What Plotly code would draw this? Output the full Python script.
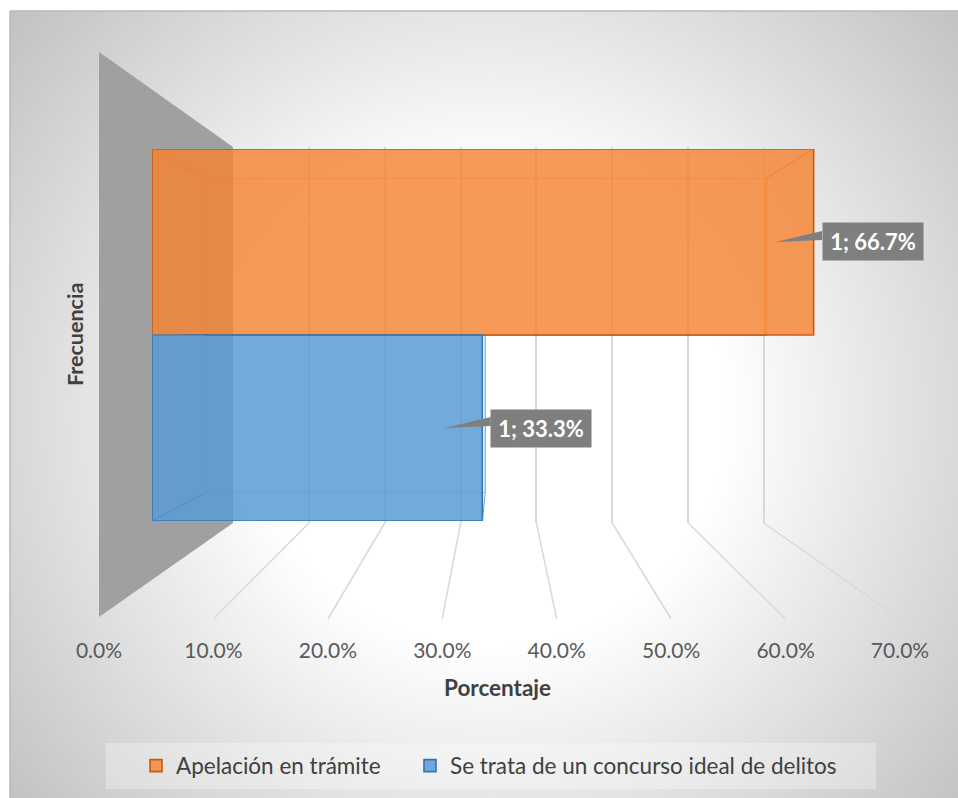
import base64
import plotly.graph_objects as go

# ---------------- data ----------------
categories = ["Apelación en trámite", "Se trata de un concurso ideal de delitos"]
frequencies = [1, 1]
percentages = [66.7, 33.3]
tick_values = [0, 10, 20, 30, 40, 50, 60, 70]
tick_labels = ["0.0%", "10.0%", "20.0%", "30.0%", "40.0%", "50.0%", "60.0%", "70.0%"]
x_title = "Porcentaje"
y_title = "Frecuencia"

# ---------------- styling / geometry ----------------
W, H = 958, 798
FONT = "Lato"
fills = ["rgba(245,130,50,0.82)", "rgba(91,155,213,0.85)"]
edges = ["#c55a11", "#2e75b6"]
backs = ["rgba(238,122,40,0.85)", "rgba(66,135,200,0.75)"]
legend_ids = ["legend", "legend2"]
legend_left_px = [136, 410]
XMAX = tick_values[-1]

# pixel geometry of the pseudo-3D scene
WALL = dict(x0=233, x1=764, top=147, bot=523)          # back wall
FLOOR = dict(x0=99, x1=900, y=619)                      # front floor edge
SIDE_TOP = 52
BACK = dict(x0=205, k=8.415, top=178, bot=493)          # back faces of bars
FRONT = dict(x0=152, k=9.92, top=149, bot=521)          # front faces of bars
WK = (WALL["x1"] - WALL["x0"]) / XMAX                   # back-wall px per unit
PAD = 0.6                                               # range padding so edge grid line shows


def px(x):
    return x / W


def py(y):
    return 1 - y / H


n = len(categories)
pos = [n - 1 - i for i in range(n)]  # first category on top


def fx(v):
    return FRONT["x0"] + v * FRONT["k"]


def bx(v):
    return BACK["x0"] + v * BACK["k"]


fig = go.Figure()

# dummy trace to materialise the back-wall subplot (grid lines)
fig.add_trace(go.Scatter(x=[0], y=[0], mode="markers", marker=dict(opacity=0),
                         showlegend=False, hoverinfo="skip", xaxis="x", yaxis="y"))

# back faces
for i in range(n):
    fig.add_trace(go.Bar(
        x=[percentages[i]], y=[pos[i]], orientation="h", width=1,
        xaxis="x2", yaxis="y2",
        marker=dict(color="rgba(0,0,0,0)", line=dict(color=backs[i], width=1.2)),
        showlegend=False, hoverinfo="skip"))

# front faces (legend entries)
for i in range(n):
    fig.add_trace(go.Bar(
        x=[percentages[i]], y=[pos[i]], orientation="h", width=1,
        name=categories[i], xaxis="x3", yaxis="y3", legend=legend_ids[i],
        marker=dict(color=fills[i], line=dict(color=edges[i], width=1.6)),
        hoverinfo="skip"))

# data-label callout wedges
for i in range(n):
    v, c = percentages[i], pos[i]
    fig.add_trace(go.Scatter(
        x=[v - 3.83, v + 0.85, v + 0.85], y=[c, c + 0.059, c + 0.011],
        mode="lines", fill="toself", fillcolor="#7f7f7f", line=dict(width=0, color="#7f7f7f"),
        xaxis="x3", yaxis="y3", showlegend=False, hoverinfo="skip"))

# dummy trace for front floor tick axis
fig.add_trace(go.Scatter(x=[0], y=[0], mode="markers", marker=dict(opacity=0),
                         showlegend=False, hoverinfo="skip", xaxis="x4", yaxis="y4"))

# ---------------- background (radial gradient) ----------------
bw, bh = W - 10, H - 11
svg = (f'<svg xmlns="http://www.w3.org/2000/svg" width="{bw}" height="{bh}" '
       f'viewBox="0 0 {bw} {bh}" preserveAspectRatio="none"><defs>'
       f'<radialGradient id="g" gradientUnits="userSpaceOnUse" cx="480" cy="400" r="620">'
       f'<stop offset="0" stop-color="#ffffff"/><stop offset="0.38" stop-color="#ffffff"/>'
       f'<stop offset="0.65" stop-color="#e4e4e4"/><stop offset="1" stop-color="#c2c2c2"/>'
       f'</radialGradient></defs><rect width="{bw}" height="{bh}" fill="url(#g)"/></svg>')
src = "data:image/svg+xml;base64," + base64.b64encode(svg.encode()).decode()

shapes = []
# side wall
shapes.append(dict(
    type="path", xref="paper", yref="paper", layer="below",
    path=(f"M {px(FLOOR['x0'])},{py(SIDE_TOP)} L {px(WALL['x0'])},{py(WALL['top'])} "
          f"L {px(WALL['x0'])},{py(WALL['bot'])} L {px(FLOOR['x0'])},{py(FLOOR['y'] - 2)} Z"),
    fillcolor="#a0a0a0", line=dict(width=0)))
# floor lines
for t in tick_values[1:]:
    xb = WALL["x0"] + t / XMAX * (WALL["x1"] - WALL["x0"])
    xf = FLOOR["x0"] + t / XMAX * (FLOOR["x1"] - FLOOR["x0"])
    shapes.append(dict(type="line", xref="paper", yref="paper", layer="below",
                       x0=px(xb), y0=py(WALL["bot"]), x1=px(xf), y1=py(FLOOR["y"]),
                       line=dict(color="#d9d9d9", width=1.5)))
# legend background
shapes.append(dict(type="rect", xref="paper", yref="paper", layer="below",
                   x0=px(106), x1=px(876), y0=py(789), y1=py(743),
                   fillcolor="rgba(255,255,255,0.3)", line=dict(width=0)))
# bar edges connecting front and back faces
for i in range(n):
    v, c = percentages[i], pos[i]
    corners = [(0, c - 0.5), (0, c + 0.5), (v, c - 0.5), (v, c + 0.5)]
    for (cv, cc) in corners:
        shapes.append(dict(type="line", xref="paper", yref="paper", layer="above",
                           x0=px(fx(cv)), y0=py(FRONT["bot"] - (cc + 0.5) * (FRONT["bot"] - FRONT["top"]) / n),
                           x1=px(bx(cv)), y1=py(BACK["bot"] - (cc + 0.5) * (BACK["bot"] - BACK["top"]) / n),
                           line=dict(color=backs[i], width=1)))
# chart frame
shapes.append(dict(type="line", xref="paper", yref="paper", x0=px(10), x1=1, y0=py(11), y1=py(11),
                   line=dict(color="#b8b8b8", width=1.5)))
shapes.append(dict(type="line", xref="paper", yref="paper", x0=px(10), x1=px(10), y0=0, y1=py(11),
                   line=dict(color="#b8b8b8", width=1.5)))

annotations = []
for i in range(n):
    annotations.append(dict(
        x=percentages[i], y=pos[i], xref="x3", yref="y3", xanchor="left", yanchor="middle",
        xshift=8, showarrow=False, text=f"<b>{frequencies[i]}; {percentages[i]:.1f}%</b>",
        font=dict(family=FONT, size=22, color="white"), bgcolor="#7f7f7f",
        width=88, height=25, borderpad=6))
annotations.append(dict(x=px(75), y=py(335), xref="paper", yref="paper", showarrow=False,
                        xanchor="center", yanchor="middle",
                        text=f"<b>{y_title}</b>", textangle=-90,
                        font=dict(family=FONT, size=21.5, color="#404040")))
annotations.append(dict(x=px(498), y=py(687), xref="paper", yref="paper", showarrow=False,
                        xanchor="center", yanchor="middle",
                        text=f"<b>{x_title}</b>",
                        font=dict(family=FONT, size=22.5, color="#404040")))

legend_style = dict(orientation="h", xanchor="left", y=py(766), yanchor="middle",
                    bgcolor="rgba(0,0,0,0)", font=dict(family=FONT, size=22.5, color="#404040"))

hidden = dict(visible=False, fixedrange=True, automargin=False)
fig.update_layout(
    width=W, height=H, autosize=False,
    margin=dict(l=0, r=0, t=0, b=0, pad=0, autoexpand=False),
    paper_bgcolor="white", plot_bgcolor="rgba(0,0,0,0)",
    barmode="overlay",
    font=dict(family=FONT, color="#595959"),
    xaxis=dict(domain=[px(WALL["x0"] - PAD * WK), px(WALL["x1"] + PAD * WK)],
               range=[-PAD, XMAX + PAD], anchor="y",
               tickvals=tick_values[1:], showticklabels=False, showgrid=True, automargin=False,
               gridcolor="#d9d9d9", gridwidth=1.5, zeroline=False, showline=False, fixedrange=True),
    yaxis=dict(domain=[py(WALL["bot"]), py(WALL["top"])], anchor="x", **hidden),
    xaxis2=dict(domain=[px(BACK["x0"]), px(bx(XMAX))], range=[0, XMAX], anchor="y2", **hidden),
    yaxis2=dict(domain=[py(BACK["bot"]), py(BACK["top"])], range=[-0.5, n - 0.5], anchor="x2", **hidden),
    xaxis3=dict(domain=[px(FRONT["x0"]), px(fx(XMAX))], range=[0, XMAX], anchor="y3", **hidden),
    yaxis3=dict(domain=[py(FRONT["bot"]), py(FRONT["top"])], range=[-0.5, n - 0.5], anchor="x3", **hidden),
    xaxis4=dict(domain=[px(FLOOR["x0"]), px(FLOOR["x1"])], range=[0, XMAX], anchor="y4",
                tickvals=tick_values, ticktext=tick_labels, showgrid=False, zeroline=False,
                showline=False, ticks="", tickfont=dict(family=FONT, size=21, color="#595959"),
                fixedrange=True, automargin=False),
    yaxis4=dict(domain=[py(636), py(620)], anchor="x4", **hidden),
    legend=dict(x=px(legend_left_px[0]), **legend_style),
    legend2=dict(x=px(legend_left_px[1]), **legend_style),
    images=[dict(source=src, xref="paper", yref="paper", x=px(10), y=py(11),
                 sizex=bw / W, sizey=bh / H, xanchor="left", yanchor="top",
                 sizing="stretch", layer="below")],
    shapes=shapes,
    annotations=annotations,
)

fig.write_html("out.html")
